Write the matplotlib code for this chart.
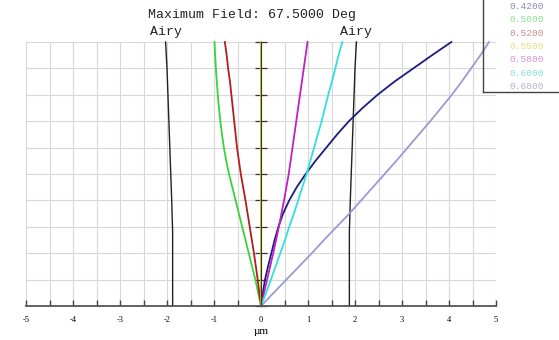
import matplotlib
matplotlib.use("Agg")
import matplotlib.pyplot as plt
from matplotlib.lines import Line2D
from matplotlib.ticker import MultipleLocator

# relative field (0 = axis, 1 = max field)
field = [0.0, 0.05, 0.1, 0.15, 0.2, 0.25, 0.3, 0.35, 0.4, 0.45, 0.5,
         0.55, 0.6, 0.65, 0.7, 0.75, 0.8, 0.85, 0.9, 0.95, 1.0]

# lateral color shift in um for each wavelength
wavelengths = ["0.4200", "0.5000", "0.5200", "0.5500", "0.5800", "0.6000", "0.6800"]
shift_0420 = [0.0, 0.04, 0.085, 0.15, 0.22, 0.29, 0.37, 0.47, 0.60, 0.76, 0.95,
              1.16, 1.39, 1.62, 1.87, 2.16, 2.48, 2.84, 3.24, 3.64, 4.05]
shift_0500 = [0.0, -0.06, -0.12, -0.19, -0.26, -0.33, -0.40, -0.47, -0.54, -0.61, -0.68,
              -0.74, -0.79, -0.83, -0.865, -0.895, -0.92, -0.94, -0.96, -0.975, -0.99]
shift_0520 = [0.0, -0.035, -0.07, -0.11, -0.15, -0.195, -0.24, -0.285, -0.33, -0.38, -0.43,
              -0.47, -0.51, -0.54, -0.57, -0.60, -0.63, -0.66, -0.70, -0.73, -0.77]
shift_0550 = [0.0] * 21
shift_0580 = [0.0, 0.065, 0.13, 0.195, 0.26, 0.32, 0.38, 0.435, 0.49, 0.54, 0.59,
              0.63, 0.67, 0.71, 0.75, 0.79, 0.83, 0.87, 0.91, 0.95, 0.99]
shift_0600 = [0.0, 0.11, 0.21, 0.31, 0.41, 0.51, 0.60, 0.70, 0.79, 0.88, 0.97,
              1.05, 1.13, 1.21, 1.29, 1.36, 1.43, 1.51, 1.58, 1.65, 1.73]
shift_0680 = [0.0, 0.27, 0.54, 0.81, 1.08, 1.34, 1.61, 1.88, 2.13, 2.38, 2.63,
              2.88, 3.12, 3.36, 3.60, 3.83, 4.06, 4.27, 4.47, 4.67, 4.85]
shifts = [shift_0420, shift_0500, shift_0520, shift_0550, shift_0580, shift_0600, shift_0680]

# airy disk radius in um
airy_field = [0.0, 0.1, 0.2, 0.28, 0.4, 0.5, 0.6, 0.7, 0.8, 0.9, 1.0]
airy = [1.88, 1.88, 1.88, 1.88, 1.90, 1.92, 1.94, 1.96, 1.98, 2.00, 2.03]

line_colors = ["#1c1c80", "#3ad23a", "#b01e1e", "#c8c400", "#c020c0", "#30e0e0", "#9a9ad6"]
text_colors = ["#8a8ac4", "#8ee08e", "#c89090", "#e2e27e", "#d896d8", "#86e0e0", "#b4b4cc"]

W, H = 559, 340
fig = plt.figure(figsize=(W / 100, H / 100), dpi=100)
ax = fig.add_axes([26 / W, 1 - 306 / H, 470 / W, 264 / H])

ax.set_xlim(-5, 5)
ax.set_ylim(0, 1)

ax.xaxis.set_major_locator(MultipleLocator(1))
ax.xaxis.set_minor_locator(MultipleLocator(0.5))
ax.yaxis.set_major_locator(MultipleLocator(0.1))
ax.grid(True, which="both", color="#d8d8d8", linewidth=0.8)
ax.set_axisbelow(True)

for side in ["top", "right"]:
    ax.spines[side].set_visible(False)
ax.spines["bottom"].set_color("#555555")
ax.spines["bottom"].set_linewidth(1.3)
ax.spines["left"].set_position(("data", 0))
ax.spines["left"].set_color("#333333")
ax.spines["left"].set_linewidth(0.8)

ax.tick_params(axis="x", which="both", direction="in", length=4, width=1,
               color="#444444", labelsize=6, pad=7)
ax.tick_params(axis="y", which="both", direction="inout", length=9, width=0.9,
               color="#333333", labelleft=False)
ax.set_xticks(range(-5, 6))
ax.set_xticklabels([str(v) for v in range(-5, 6)], family="Liberation Serif", fontsize=6)

ax.set_xlabel("\u00b5m", family="Liberation Serif", fontsize=8, labelpad=2)

# airy disk
ax.plot(airy, airy_field, color="#222222", linewidth=1.0, clip_on=False)
ax.plot([-a for a in airy], airy_field, color="#222222", linewidth=1.0, clip_on=False)

for s, c in zip(shifts, line_colors):
    ax.plot(s, field, color=c, linewidth=1.3, clip_on=False)

mono = "Liberation Mono"
fig.text(252 / W, 1 - 15 / H, "Maximum Field: 67.5000 Deg", family=mono,
         fontsize=9.5, ha="center", va="center", color="#222222")
ax.text(-airy[-1], 1.015, "Airy", family=mono, fontsize=9.5, ha="center",
        va="bottom", color="#222222")
ax.text(airy[-1], 1.015, "Airy", family=mono, fontsize=9.5, ha="center",
        va="bottom", color="#222222")

# legend box
fig.add_artist(Line2D([483 / W, 483 / W], [1.0, 1 - 92 / H], color="#444444", linewidth=1))
fig.add_artist(Line2D([483 / W, 1.0], [1 - 92 / H, 1 - 92 / H], color="#444444", linewidth=1))
for i, (w, c) in enumerate(zip(wavelengths, text_colors)):
    fig.text(509 / W, 1 - (6.5 + 13.3 * i) / H, w, family=mono, fontsize=6.8,
             color=c, ha="left", va="center")

fig.savefig("out.png", dpi=100)
